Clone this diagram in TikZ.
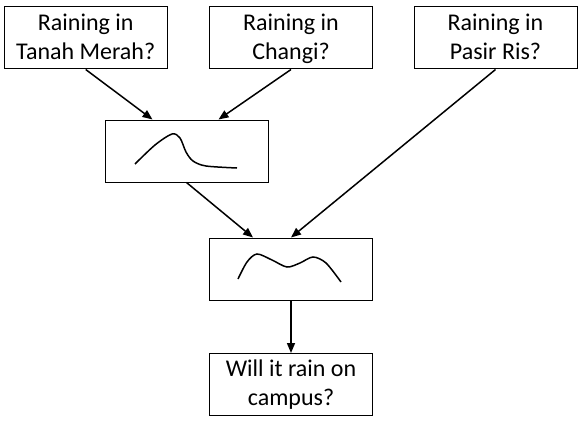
\documentclass[tikz,border=0pt]{standalone}
\usepackage{fontspec}
\setmainfont{Carlito}
\usepackage{tikz}
\usetikzlibrary{arrows.meta}

\tikzset{
  qbox/.style={draw, line width=1pt, minimum width=163pt, minimum height=62pt, inner sep=0pt, align=center, font=\fontsize{24}{29}\selectfont, execute at begin node=\strut, text depth=3pt},
  arr/.style={line width=1.5pt, -{Triangle[length=10pt,width=8pt]}}
}

\begin{document}
\begin{tikzpicture}[x=1pt, y=-1pt]
        \useasboundingbox (0,0) rectangle (578,428);
        \node[qbox] (tanah) at (85.7,38) {Raining in\\Tanah Merah?};
        \node[qbox] (changi) at (291,38) {Raining in\\Changi?};
        \node[qbox] (pasir) at (495.5,38) {Raining in\\Pasir Ris?};
        \node[qbox] (mid) at (186.5,151) {};
        \node[qbox] (comb) at (291,269) {};
        \node[qbox] (campus) at (291,384.5) {Will it rain on\\campus?};
        \draw[line width=1.5pt] plot[smooth] coordinates {(135,164) (155,145) (172,134) (180,138) (186,152) (193,161) (206,166) (237,168)};
        \draw[line width=1.5pt] plot[smooth] coordinates {(238,279) (247,262) (257,254) (272,260) (287,267) (300,263) (313,257) (326,263) (341,282)};
        \draw[arr] (tanah.south) -- ([xshift=-34pt]mid.north);
        \draw[arr] (changi.south) -- ([xshift=32pt]mid.north);
        \draw[arr] (mid.south) -- ([xshift=-38pt]comb.north);
        \draw[arr] (pasir.south) -- (comb.north);
        \draw[arr] (comb.south) -- (campus.north);
    \end{tikzpicture}
\end{document}
